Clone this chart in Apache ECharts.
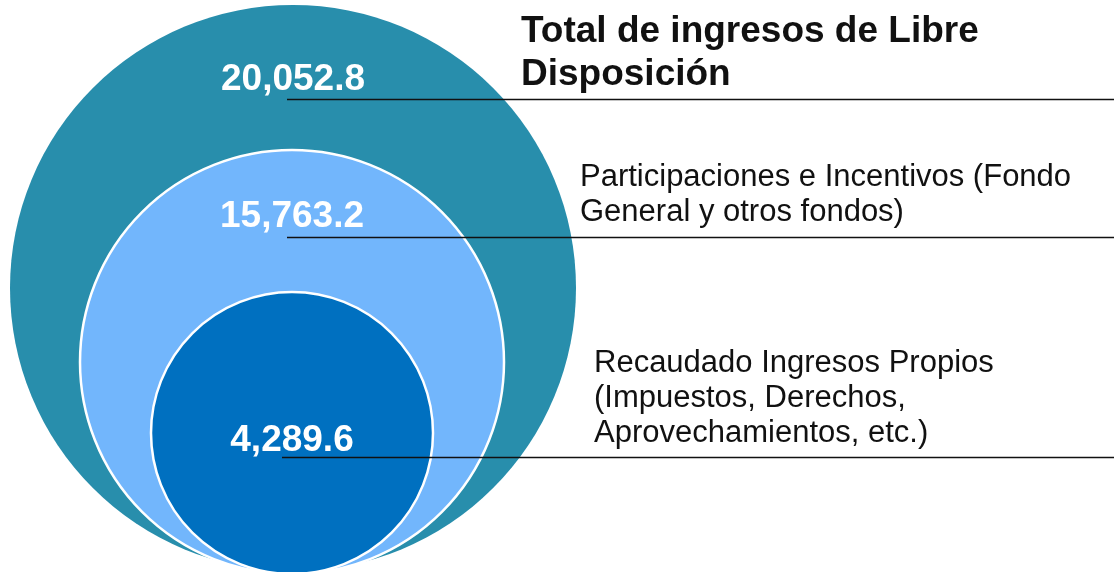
<!DOCTYPE html>
<html>
<head>
<meta charset="utf-8">
<script src="https://cdn.jsdelivr.net/npm/echarts@6/dist/echarts.min.js"></script>
<style>
  html, body { margin: 0; padding: 0; background: #fff; }
  #chart { width: 1114px; height: 572px; }
</style>
</head>
<body>
<div id="chart"></div>
<script>
// datos
const names = [
  'Total de ingresos de Libre\nDisposición',
  'Participaciones e Incentivos (Fondo\nGeneral y otros fondos)',
  'Recaudado Ingresos Propios\n(Impuestos, Derechos,\nAprovechamientos, etc.)'
];
const values = [20052.8, 15763.2, 4289.6];

const colors = ['#288eac', '#72b6fc', '#0070c0'];
// layout de cada circulo (centro, radio, desplazamiento de etiqueta)
const layout = [
  { center: [293, 288], r: 283, dy: -208, lineY: 99.5, lineX: 287, textX: 521, textY: 10, bold: true },
  { center: [292, 362], r: 212, dy: -145, lineY: 237.5, lineX: 287, textX: 580, textY: 160, bold: false },
  { center: [292, 433], r: 141, dy: 8, lineY: 457.5, lineX: 282, textX: 594, textY: 346, bold: false }
];

function fmt(v) {
  const parts = v.toFixed(1).split('.');
  parts[0] = parts[0].replace(/\B(?=(\d{3})+(?!\d))/g, ',');
  return parts.join('.');
}

const chart = echarts.init(document.getElementById('chart'));

const series = values.map((v, i) => ({
  type: 'pie',
  silent: true,
  animation: false,
  center: layout[i].center,
  radius: [0, layout[i].r],
  z: 2 + i,
  itemStyle: {
    color: colors[i],
    borderColor: i === 0 ? colors[i] : '#fff',
    borderWidth: i === 0 ? 0 : 2.5
  },
  label: {
    show: true,
    position: 'center',
    formatter: p => fmt(p.value),
    color: '#fff',
    fontSize: 37,
    fontWeight: 'bold',
    fontFamily: 'Liberation Sans'
  },
  labelLine: { show: false },
  emphasis: { disabled: true },
  labelLayout: { dy: layout[i].dy },
  data: [{ name: names[i], value: v }]
}));

const graphics = [];
names.forEach((n, i) => {
  const L = layout[i];
  graphics.push({
    type: 'line',
    z: 100,
    shape: { x1: L.lineX, y1: L.lineY, x2: 1114, y2: L.lineY },
    style: { stroke: '#111', lineWidth: 1.3 }
  });
  graphics.push({
    type: 'text',
    z: 100,
    left: L.textX,
    top: L.textY,
    style: {
      text: n,
      fill: '#111',
      font: (L.bold ? 'bold 37px' : '31px') + ' "Liberation Sans", Arial, sans-serif',
      lineHeight: L.bold ? 43 : 35
    }
  });
});

chart.setOption({
  animation: false,
  series: series,
  graphic: graphics
});
</script>
</body>
</html>
